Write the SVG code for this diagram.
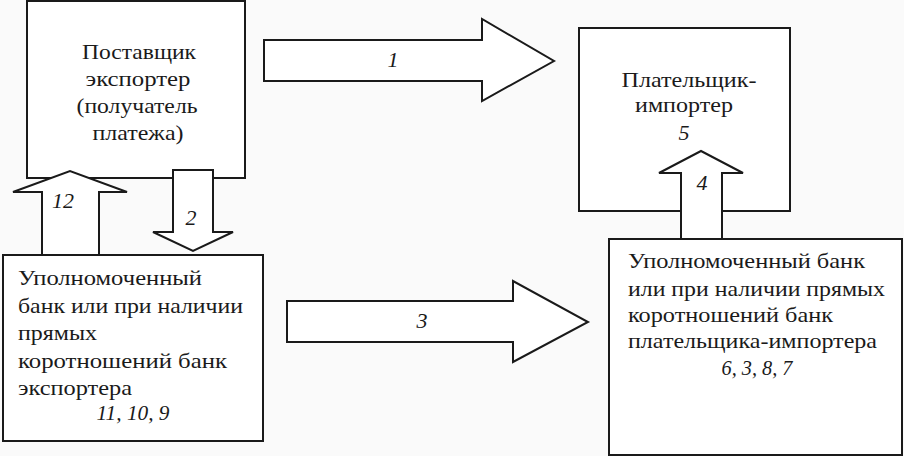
<svg xmlns="http://www.w3.org/2000/svg" width="904" height="456" viewBox="0 0 904 456" font-family="Liberation Serif, Times New Roman, serif" font-size="22">
<style>
.box{fill:#fff;stroke:#1a1a1a;stroke-width:2}
.arr{fill:#fff;stroke:#1a1a1a;stroke-width:2;stroke-linejoin:miter}
.c{text-anchor:middle}
.i{font-style:italic}
</style>
<rect width="904" height="456" fill="#fafafa"/>
<g id="supplier" fill="#1a1a1a">
<rect class="box" x="27" y="1" width="218" height="177"/>
<text class="c" x="139" y="59" textLength="114" lengthAdjust="spacingAndGlyphs">Поставщик</text>
<text class="c" x="138" y="86" textLength="105" lengthAdjust="spacingAndGlyphs">экспортер</text>
<text class="c" x="137" y="113" textLength="121" lengthAdjust="spacingAndGlyphs">(получатель</text>
<text class="c" x="138" y="140" textLength="91" lengthAdjust="spacingAndGlyphs">платежа)</text>
</g>
<g id="importer" fill="#1a1a1a">
<rect class="box" x="579" y="28" width="211" height="183"/>
<text class="c" x="689" y="87" textLength="135" lengthAdjust="spacingAndGlyphs">Плательщик-</text>
<text class="c" x="684" y="112" textLength="98" lengthAdjust="spacingAndGlyphs">импортер</text>
<text class="c i" x="684" y="140">5</text>
</g>
<g id="exporter-bank" fill="#1a1a1a">
<rect class="box" x="3" y="255" width="260" height="186"/>
<text x="18" y="285" textLength="184" lengthAdjust="spacingAndGlyphs">Уполномоченный</text>
<text x="18" y="313" textLength="225" lengthAdjust="spacingAndGlyphs">банк или при наличии</text>
<text x="18" y="340" textLength="79" lengthAdjust="spacingAndGlyphs">прямых</text>
<text x="18" y="368" textLength="209" lengthAdjust="spacingAndGlyphs">коротношений банк</text>
<text x="18" y="395" textLength="114" lengthAdjust="spacingAndGlyphs">экспортера</text>
<text class="c i" x="133" y="420" textLength="73" lengthAdjust="spacingAndGlyphs">11, 10, 9</text>
</g>
<g id="importer-bank" fill="#1a1a1a">
<rect class="box" x="609" y="239" width="293" height="216"/>
<text x="628" y="268" textLength="237" lengthAdjust="spacingAndGlyphs">Уполномоченный банк</text>
<text x="628" y="296" textLength="257" lengthAdjust="spacingAndGlyphs">или при наличии прямых</text>
<text x="628" y="322" textLength="205" lengthAdjust="spacingAndGlyphs">коротношений банк</text>
<text x="628" y="348" textLength="249" lengthAdjust="spacingAndGlyphs">плательщика-импортера</text>
<text class="c i" x="757" y="375" textLength="71" lengthAdjust="spacingAndGlyphs">6, 3, 8, 7</text>
</g>
<g id="connectors" fill="#1a1a1a">
<polygon class="arr" points="264,40 482,40 482,19 554,61 482,101 482,81 264,81"/>
<text class="c i" x="393" y="67">1</text>
<polygon class="arr" points="287,301 513,301 513,281 588,322 513,362 513,342 287,342"/>
<text class="c i" x="422" y="328">3</text>
<polygon class="arr" points="42,255 42,192 13,192 70,171 127,192 99,192 99,255"/>
<text class="c i" x="63" y="208">12</text>
<polygon class="arr" points="173,170 213,170 213,232 233,232 193,251 153,232 173,232"/>
<text class="c i" x="191" y="225">2</text>
<polygon class="arr" points="681,239 681,173 659,173 701,151 743,173 722,173 722,239"/>
<text class="c i" x="702" y="190">4</text>
</g>
</svg>
